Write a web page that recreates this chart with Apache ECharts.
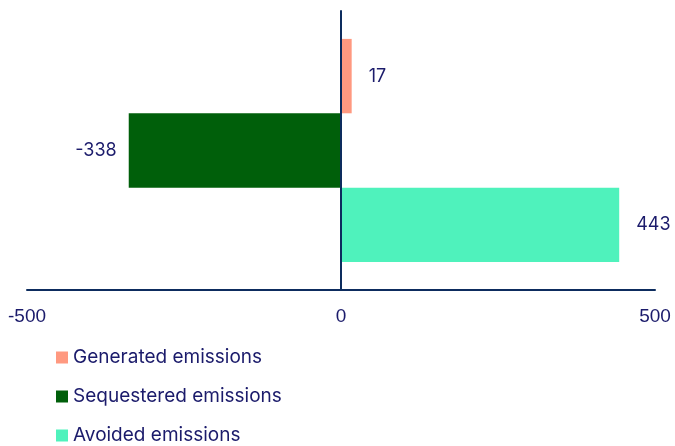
<!DOCTYPE html>
<html><head><meta charset="utf-8">
<script src="https://cdn.jsdelivr.net/npm/echarts@6/dist/echarts.min.js"></script>
<style>html,body{margin:0;padding:0;background:#fff}#c{width:675px;height:446px}</style>
</head><body><div id="c"></div>
<script>
const seriesNames = ["Generated emissions", "Sequestered emissions", "Avoided emissions"];
const seriesValues = [17, -338, 443];
const seriesColors = ["#ff9980", "#005f0a", "#4ff2bc"];
const xTicks = [-500, 0, 500];
const category = ["Emissions"];

const textColor = "#1b1b6b";
const axisColor = "#0d2c5e";

const chart = echarts.init(document.getElementById('c'));
const series = seriesNames.map((n, i) => ({
  name: n,
  type: 'bar',
  data: [seriesValues[i]],
  barGap: '0%',
  barCategoryGap: '20%',
  itemStyle: { color: seriesColors[i] },
  label: {
    show: true,
    position: seriesValues[i] < 0 ? 'left' : 'right',
    distance: seriesValues[i] < 0 ? 12 : 17,
    color: textColor,
    fontSize: 18,
    fontFamily: 'Inter'
  }
}));
chart.setOption({
  animation: false,
  grid: { left: 27, right: 20, top: 11, bottom: 156, containLabel: false },
  legend: {
    orient: 'vertical', left: 56, top: 348, height: 120, padding: 0,
    data: seriesNames,
    itemWidth: 12, itemHeight: 12, itemGap: 20, itemTextGap: 6,
    icon: 'rect',
    textStyle: { color: textColor, fontSize: 19, lineHeight: 19, fontFamily: 'Inter' }
  },
  xAxis: {
    type: 'value', min: -500, max: 500, interval: 500,
    axisLine: { show: true, onZero: false, lineStyle: { color: axisColor, width: 2 } },
    axisTick: { show: false },
    splitLine: { show: false },
    axisLabel: { color: textColor, fontSize: 19, fontFamily: 'Liberation Sans', margin: 17,
      formatter: v => xTicks.includes(v) ? String(v) : '' }
  },
  yAxis: {
    type: 'category', data: category, inverse: true, z: 10,
    axisLine: { show: true, onZero: true, lineStyle: { color: axisColor, width: 2 } },
    axisTick: { show: false },
    axisLabel: { show: false }
  },
  series: series
});
</script></body></html>
